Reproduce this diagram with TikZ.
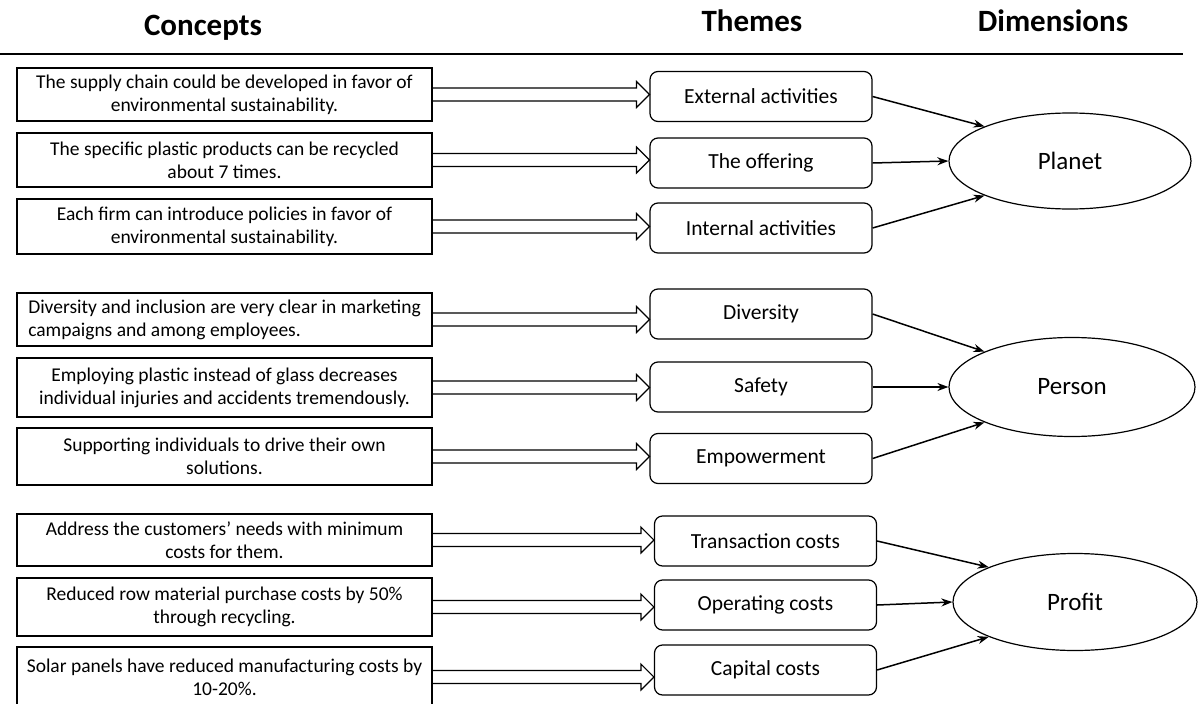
\documentclass[tikz,border=0pt]{standalone}
\usepackage{fontspec}
\setmainfont{Carlito}
\usetikzlibrary{arrows.meta,calc,shapes.geometric}

\tikzset{
  concept/.style={draw, line width=1.2pt, minimum width=415pt,
    align=center, inner sep=0pt, font=\fontsize{19.5}{23}\selectfont},
  theme/.style={draw, line width=1.2pt, rounded corners=8pt, minimum width=222pt,
    minimum height=50pt, inner sep=0pt, font=\fontsize{21.5}{24}\selectfont},
  dimension/.style={draw, ellipse, line width=1.2pt, inner sep=0pt,
    font=\fontsize{25}{28}\selectfont},
  heading/.style={font=\bfseries\fontsize{31}{36}\selectfont},
  link/.style={line width=1.5pt, -{Stealth[length=11pt,width=8pt]}}
}

% hollow block arrow from a concept to its theme
\newcommand{\fatarrow}[2]{%
  \draw[line width=1.2pt] let \p1=(#1.east), \p2=(#2.west) in
    (\x1,\y1+6.5pt) -- (\x2-13pt,\y1+6.5pt) -- (\x2-13pt,\y1+13pt) -- (\x2,\y1)
    -- (\x2-13pt,\y1-13pt) -- (\x2-13pt,\y1-6.5pt) -- (\x1,\y1-6.5pt);}

\begin{document}
\begin{tikzpicture}[x=1pt, y=-1pt]
    \useasboundingbox (0,0) rectangle (1200,704);

    % Headings
    \node[heading] (hconcepts) at (203,28) {Concepts};
    \node[heading] (hthemes) at (752,21) {Themes};
    \node[heading] (hdims) at (1053,21) {Dimensions};
    \draw[line width=2.5pt] (0,54) -- (1183,54);

    % Concepts
    \node[concept, minimum height=53pt] (c1) at (224.5,94.5) {The supply chain could be developed in favor of\\ environmental sustainability.};
    \node[concept, minimum height=54pt] (c2) at (224.5,160) {The specific plastic products can be recycled\\ about 7 times.};
    \node[concept, minimum height=55pt] (c3) at (224.5,226.5) {Each firm can introduce policies in favor of\\ environmental sustainability.};
    \node[concept, minimum height=53pt, align=left] (c4) at (224.5,319.5) {Diversity and inclusion are very clear in marketing\\ campaigns and among employees.};
    \node[concept, minimum height=59pt] (c5) at (224.5,387.5) {Employing plastic instead of glass decreases\\ individual injuries and accidents tremendously.};
    \node[concept, minimum height=57pt] (c6) at (224.5,456.5) {Supporting individuals to drive their own\\ solutions.};
    \node[concept, minimum height=52pt] (c7) at (224.5,540) {Address the customers’ needs with minimum\\ costs for them.};
    \node[concept, minimum height=58pt] (c8) at (224.5,607) {Reduced row material purchase costs by 50\%\\ through recycling.};
    \node[concept, minimum height=60pt] (c9) at (224.5,677) {Solar panels have reduced manufacturing costs by\\ 10-20\%.};

    % Themes
    \node[theme] (t1) at (761,96.5) {External activities};
    \node[theme] (t2) at (761,163) {The offering};
    \node[theme] (t3) at (761,228) {Internal activities};
    \node[theme] (t4) at (761,314) {Diversity};
    \node[theme] (t5) at (761,387) {Safety};
    \node[theme] (t6) at (761,458.5) {Empowerment};
    \node[theme] (t7) at (765.5,541) {Transaction costs};
    \node[theme] (t8) at (765.5,605) {Operating costs};
    \node[theme] (t9) at (765.5,670) {Capital costs};

    % Dimensions
    \node[dimension, minimum width=242pt, minimum height=96pt] (planet) at (1070,161) {Planet};
    \node[dimension, minimum width=246pt, minimum height=99pt] (person) at (1072,387) {Person};
    \node[dimension, minimum width=244pt, minimum height=97pt] (profit) at (1075,602) {Profit};

    % Connectors
    \foreach \i in {1,...,9} {
        \fatarrow{c\i}{t\i}
    }
    \foreach \a/\b/\c/\d in {t1/t2/t3/planet, t4/t5/t6/person, t7/t8/t9/profit} {
        \draw[link] (\a.east) -- (\d.158);
        \draw[link] (\b.east) -- (\d.west);
        \draw[link] (\c.east) -- (\d.202);
    }
\end{tikzpicture}
\end{document}
